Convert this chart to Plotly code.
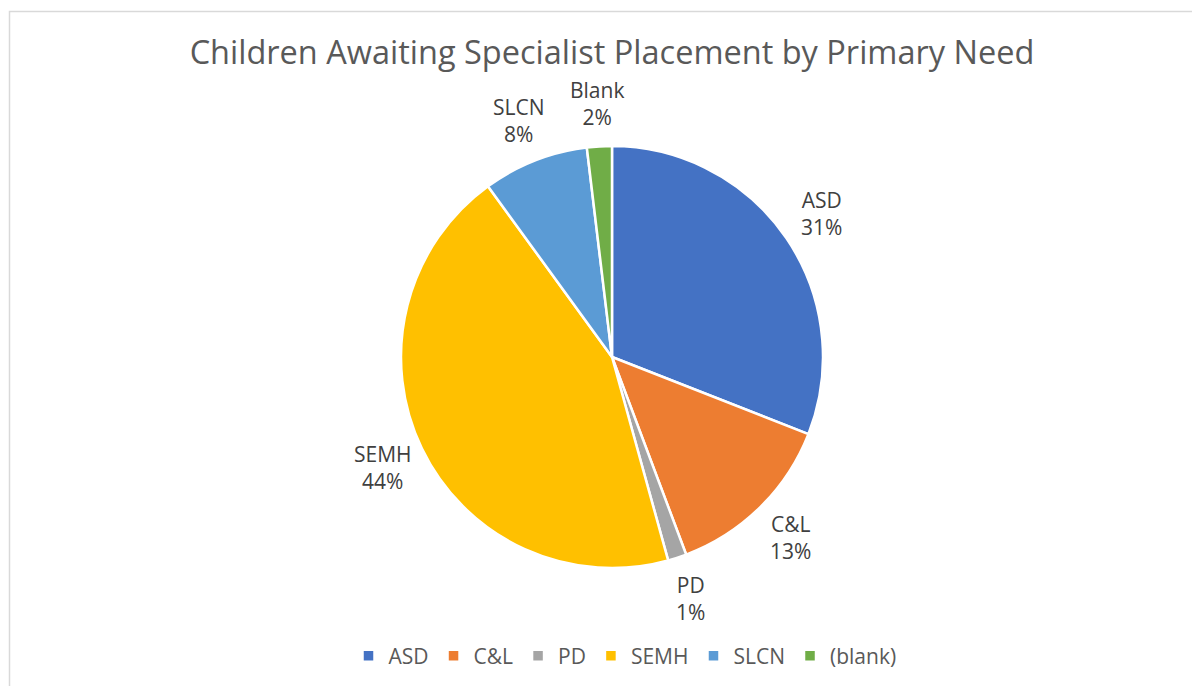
import math
import plotly.graph_objects as go

categories = ["ASD", "C&L", "PD", "SEMH", "SLCN", "(blank)"]
slice_names = ["ASD", "C&L", "PD", "SEMH", "SLCN", "Blank"]
counts = [65, 28, 3, 93, 17, 4]
colors = ["#4472C4", "#ED7D31", "#A5A5A5", "#FFC000", "#5B9BD5", "#70AD47"]

W, H = 1200, 686
off = 8  # page body margin
cx, cy, r = 612 - off, 357 - off, 211
label_r = 254

fig = go.Figure(go.Pie(
    labels=categories,
    values=counts,
    text=slice_names,
    sort=False,
    direction="clockwise",
    rotation=0,
    marker=dict(colors=colors, line=dict(color="white", width=2.5)),
    textinfo="none",
    domain=dict(x=[(cx - r) / W, (cx + r) / W], y=[1 - (cy + r) / H, 1 - (cy - r) / H]),
    hoverinfo="label+value+percent",
))

# data labels placed at each slice's mid-angle, derived from the values
total = sum(counts)
annotations = []
cum = 0
for name, c in zip(slice_names, counts):
    mid = (cum + c / 2) / total * 2 * math.pi
    cum += c
    px = cx + label_r * math.sin(mid)
    py = cy - label_r * math.cos(mid)
    annotations.append(dict(
        x=px / W, y=1 - py / H, xref="paper", yref="paper",
        text=f"{name}<br>{round(100 * c / total)}%", showarrow=False,
        xanchor="center", yanchor="middle", align="center",
        font=dict(size=21, color="#404040", family="Open Sans"),
    ))

fig.update_layout(
    width=W, height=H,
    margin=dict(l=0, r=0, t=0, b=0),
    paper_bgcolor="white",
    plot_bgcolor="white",
    font=dict(family="Open Sans", color="#595959"),
    title=dict(text="Children Awaiting Specialist Placement by Primary Need",
               x=(612 - off) / W, xanchor="center", y=1 - (53 - off) / H, yanchor="middle",
               font=dict(size=32.5, color="#595959", family="Open Sans")),
    legend=dict(orientation="h", x=(625 - off) / W, xanchor="center", y=1 - (656 - off) / H,
                yanchor="middle", font=dict(size=21, color="#595959"),
                itemwidth=30, traceorder="normal"),
    annotations=annotations,
    shapes=[dict(type="rect", xref="paper", yref="paper",
                 x0=(9.5 - off) / W, y0=-0.05, x1=1.05, y1=1 - (11.5 - off) / H,
                 line=dict(color="#D9D9D9", width=1.5), fillcolor="rgba(0,0,0,0)")],
)

fig.write_html("out.html")
